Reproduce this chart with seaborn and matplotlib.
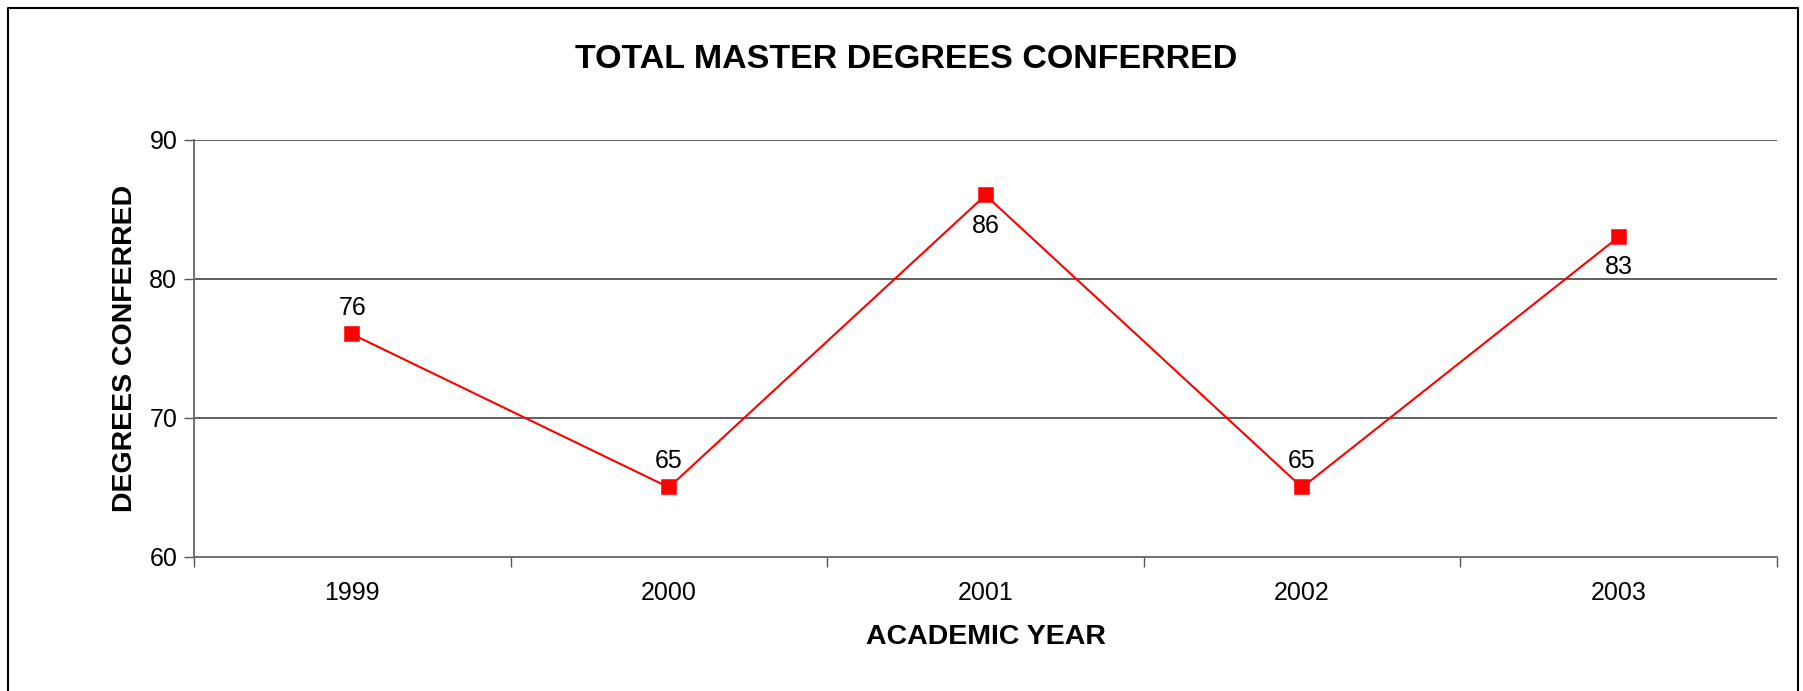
import matplotlib
matplotlib.use("Agg")
import matplotlib.pyplot as plt
from matplotlib.lines import Line2D
import seaborn as sns
import pandas as pd
import numpy as np

years = ["1999", "2000", "2001", "2002", "2003"]
degrees = [76, 65, 86, 65, 83]
label_pos = ["above", "above", "below", "above", "below"]
y_ticks = [60, 70, 80, 90]

sns.set_theme(style="white")
plt.rcParams['font.family'] = ['Liberation Sans', 'DejaVu Sans']
plt.rcParams['text.color'] = 'black'
plt.rcParams['axes.labelcolor'] = 'black'
plt.rcParams['xtick.labelcolor'] = 'black'
plt.rcParams['ytick.labelcolor'] = 'black'

df = pd.DataFrame({"year": years, "degrees": degrees})

fig = plt.figure(figsize=(18.03, 6.91), dpi=100)
ax = fig.add_axes([194/1803, 1 - 557/691, (1777-194)/1803, (557-139.5)/691])

sns.pointplot(data=df, x="year", y="degrees", order=years, color="#ff0000",
              markers="s", markersize=10.5, linewidth=1.5, ax=ax)

ax.set_xlim(-0.5, len(years) - 0.5)
ax.set_ylim(60, 90)
ax.set_yticks(y_ticks)
ax.set_yticklabels([str(t) for t in y_ticks], fontsize=18)
ax.tick_params(axis='y', which='major', length=7, width=1, color='#555555', direction='out', pad=5, left=True)
ax.set_xticks(range(len(years)))
ax.set_xticklabels(years, fontsize=18)
ax.tick_params(axis='x', which='major', length=0, pad=17)
ax.set_xticks(np.arange(-0.5, len(years) + 0.5, 1), minor=True)
ax.tick_params(axis='x', which='minor', length=7, width=1, color='#555555', direction='out', bottom=True)

for y in y_ticks[1:]:
    ax.axhline(y, color='#333333', linewidth=1.1, zorder=0)

for s in ['top', 'right']:
    ax.spines[s].set_visible(False)
for s in ['left', 'bottom']:
    ax.spines[s].set_color('#666666')
    ax.spines[s].set_linewidth(1.3)

for i, (v, p) in enumerate(zip(degrees, label_pos)):
    off = 19 if p == "above" else -22
    ax.annotate(str(v), (i, v), xytext=(0, off), textcoords='offset points',
                ha='center', va='center', fontsize=18, color='black')

ax.set_xlabel("ACADEMIC YEAR", fontsize=20.5, fontweight='bold', labelpad=14)
ax.set_ylabel("DEGREES CONFERRED", fontsize=20.5, fontweight='bold', labelpad=8)

fig.text(906/1803, 1 - 60/691, "TOTAL MASTER DEGREES CONFERRED", ha='center', va='center',
         fontsize=24.5, fontweight='bold', color='black')

# outer chart frame (left, top, right; no bottom edge)
lx, rx = 7.5/1803, 1797.5/1803
ty = 1 - 7.5/691
fig.add_artist(Line2D([lx, lx, rx, rx], [0, ty, ty, 0], color='black', linewidth=1.5,
                      transform=fig.transFigure))

fig.savefig("out.png", dpi=100)
